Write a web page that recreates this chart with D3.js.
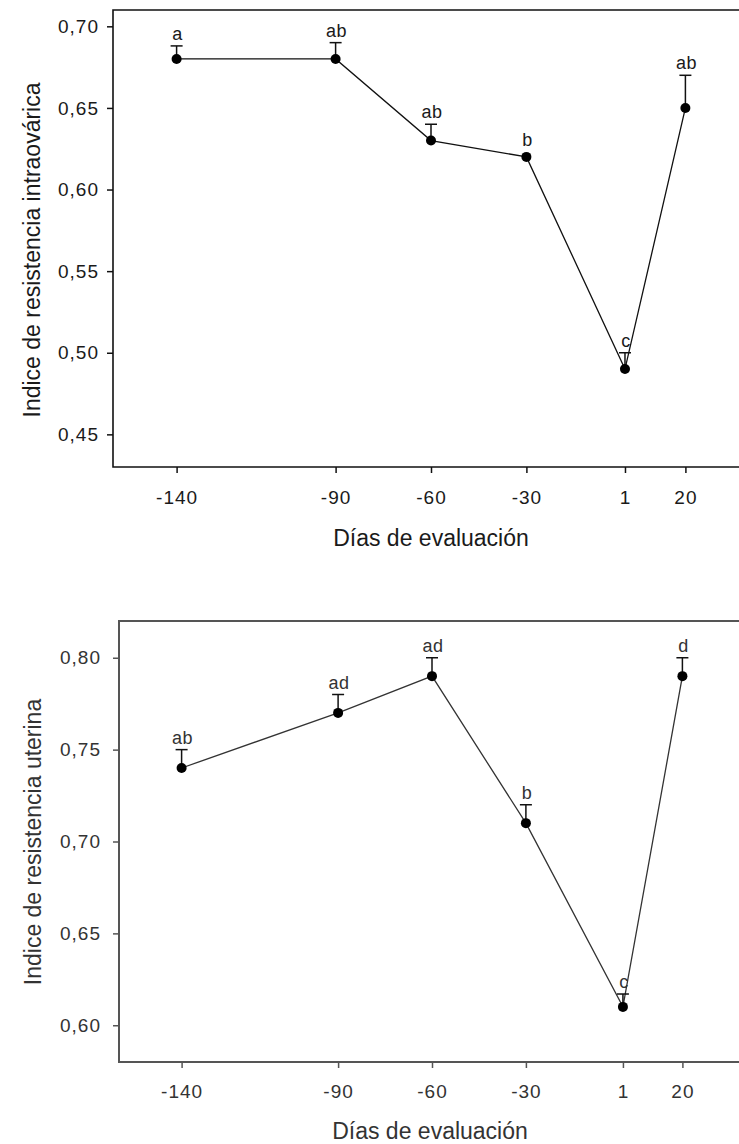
<!DOCTYPE html>
<html>
<head>
<meta charset="utf-8">
<script src="https://cdn.jsdelivr.net/npm/d3@7"></script>
<style>
  body { margin: 0; background: #fff; }
  text { font-family: "Liberation Sans", Arial, sans-serif; }
</style>
</head>
<body>
<script>
// Days of evaluation (x axis)
const days = [-140, -90, -60, -30, 1, 20];
const dayDomain = [-160, 40];

// Intra-ovarian resistance index: mean, top of error bar, letters
const ovaryMean = [0.68, 0.68, 0.63, 0.62, 0.49, 0.65];
const ovaryUpper = [0.688, 0.69, 0.64, 0.62, 0.50, 0.67];
const ovaryLetters = ["a", "ab", "ab", "b", "c", "ab"];
const ovaryTicks = [0.45, 0.50, 0.55, 0.60, 0.65, 0.70];

// Uterine resistance index
const uterineMean = [0.74, 0.77, 0.79, 0.71, 0.61, 0.79];
const uterineUpper = [0.75, 0.78, 0.80, 0.72, 0.617, 0.80];
const uterineLetters = ["ab", "ad", "ad", "b", "c", "d"];
const uterineTicks = [0.60, 0.65, 0.70, 0.75, 0.80];

const xTitle = "Días de evaluación";

const svg = d3.select("body")
    .append("svg")
    .attr("width", 739)
    .attr("height", 1144);

// comma as decimal mark, like the original
const fmt = d => d3.format(".2f")(d).replace(".", ",");

function drawPanel(p) {
    const rows = days.map((d, i) => ({ day: d, mean: p.mean[i], upper: p.upper[i], letter: p.letters[i] }));

    const x = d3.scaleLinear().domain(dayDomain).range([p.left, p.right]);
    const y = d3.scaleLinear().domain(p.yDomain).range([p.bottom, p.top]);

    const g = svg.append("g");

    // y ticks
    g.append("g")
        .attr("transform", `translate(${p.left},0)`)
        .call(d3.axisLeft(y).tickValues(p.yTicks).tickSize(6).tickPadding(p.yPad).tickFormat(fmt))
        .call(a => a.select(".domain").remove())
        .call(a => a.selectAll("line").attr("stroke", p.frame).attr("stroke-width", 1.5))
        .call(a => a.selectAll("text")
            .attr("font-size", 19)
            .attr("letter-spacing", 1)
            .attr("fill", p.ink)
            .attr("font-family", "Liberation Sans, Arial, sans-serif"));

    // x ticks
    g.append("g")
        .attr("transform", `translate(0,${p.bottom})`)
        .call(d3.axisBottom(x).tickValues(days).tickSize(6).tickPadding(p.xPad).tickFormat(d => String(d)))
        .call(a => a.select(".domain").remove())
        .call(a => a.selectAll("line").attr("stroke", p.frame).attr("stroke-width", 1.5))
        .call(a => a.selectAll("text")
            .attr("font-size", 19)
            .attr("letter-spacing", 1)
            .attr("fill", p.ink)
            .attr("font-family", "Liberation Sans, Arial, sans-serif"));

    // frame: top, left, bottom (right side falls outside the picture)
    g.append("path")
        .attr("d", `M${p.right},${p.top}H${p.left}V${p.bottom}H${p.right}`)
        .attr("fill", "none")
        .attr("stroke", p.frame)
        .attr("stroke-width", p.frameWidth);

    // connecting line
    g.append("path")
        .datum(rows)
        .attr("fill", "none")
        .attr("stroke", p.lineColor)
        .attr("stroke-width", 1.3)
        .attr("d", d3.line().x(d => x(d.day)).y(d => y(d.mean)));

    // error bars (upper only)
    const eb = g.selectAll(".err")
        .data(rows.filter(d => d.upper > d.mean))
        .join("g")
        .attr("class", "err");
    eb.append("line")
        .attr("x1", d => x(d.day)).attr("x2", d => x(d.day))
        .attr("y1", d => y(d.mean)).attr("y2", d => y(d.upper))
        .attr("stroke", "#111").attr("stroke-width", 1.5);
    eb.append("line")
        .attr("x1", d => x(d.day) - 6).attr("x2", d => x(d.day) + 6)
        .attr("y1", d => y(d.upper)).attr("y2", d => y(d.upper))
        .attr("stroke", "#111").attr("stroke-width", 1.5);

    // points
    g.selectAll(".pt")
        .data(rows)
        .join("circle")
        .attr("class", "pt")
        .attr("cx", d => x(d.day))
        .attr("cy", d => y(d.mean))
        .attr("r", 5)
        .attr("fill", "#000");

    // significance letters
    g.selectAll(".lett")
        .data(rows)
        .join("text")
        .attr("class", "lett")
        .attr("x", d => x(d.day) + 1)
        .attr("y", d => Math.min(y(d.upper), y(d.mean) - 5) - 6)
        .attr("text-anchor", "middle")
        .attr("font-size", 18)
        .attr("letter-spacing", 0.5)
        .attr("fill", p.ink)
        .text(d => d.letter);

    // axis titles
    g.append("text")
        .attr("x", p.xTitleX)
        .attr("y", p.xTitleY)
        .attr("text-anchor", "middle")
        .attr("font-size", 23)
        .attr("fill", p.ink)
        .text(xTitle);

    g.append("text")
        .attr("transform", `translate(${p.yTitleX},${p.yTitleY}) rotate(-90)`)
        .attr("text-anchor", "middle")
        .attr("font-size", 23)
        .attr("fill", p.ink)
        .text(p.yTitle);
}

drawPanel({
    mean: ovaryMean, upper: ovaryUpper, letters: ovaryLetters, yTicks: ovaryTicks,
    yDomain: [0.43, 0.71],
    left: 113, right: 749, top: 10, bottom: 467,
    yPad: 8, xPad: 18,
    frame: "#111", frameWidth: 1.6, lineColor: "#111", ink: "#1a1a1a",
    xTitleX: 431, xTitleY: 546,
    yTitleX: 40, yTitleY: 250,
    yTitle: "Indice de resistencia intraovárica"
});

drawPanel({
    mean: uterineMean, upper: uterineUpper, letters: uterineLetters, yTicks: uterineTicks,
    yDomain: [0.58, 0.82],
    left: 119, right: 745, top: 621, bottom: 1062,
    yPad: 12, xPad: 17,
    frame: "#555", frameWidth: 2, lineColor: "#333", ink: "#333",
    xTitleX: 430, xTitleY: 1139,
    yTitleX: 41, yTitleY: 842,
    yTitle: "Indice de resistencia uterina"
});
</script>
</body>
</html>
